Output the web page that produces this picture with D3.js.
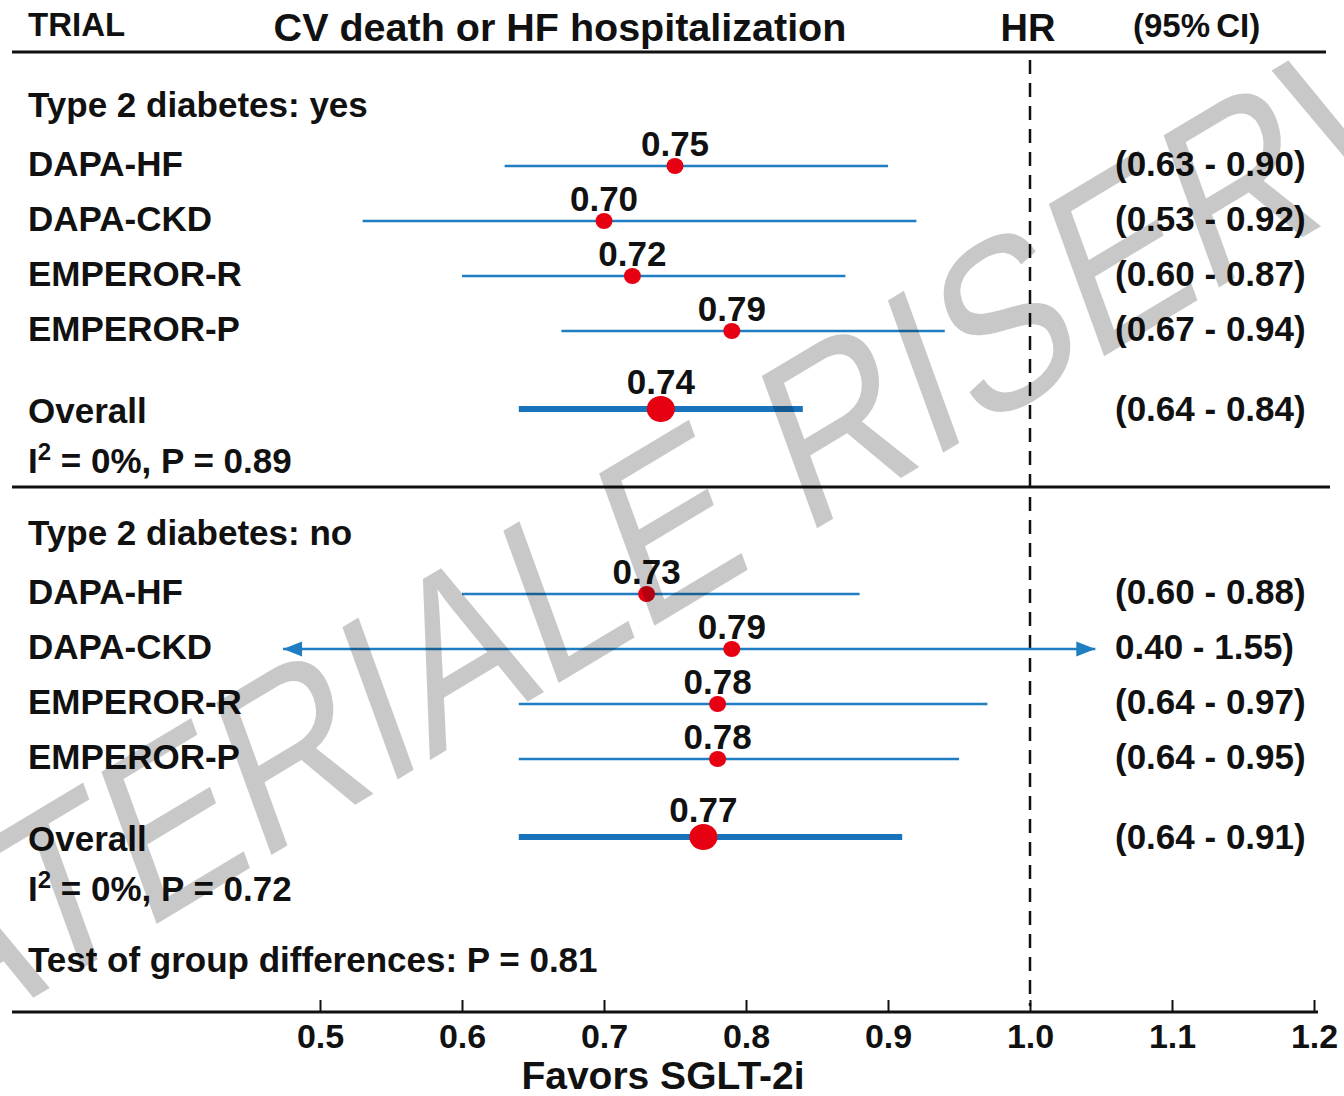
<!DOCTYPE html>
<html>
<head>
<meta charset="utf-8">
<script src="https://cdn.jsdelivr.net/npm/d3@7"></script>
<style>
  html, body { margin: 0; padding: 0; background: #fff; }
  svg { display: block; }
  text { font-family: "Liberation Sans", Arial, Helvetica, sans-serif; font-weight: bold; fill: #111; }
  text.watermark { font-weight: normal; }
</style>
</head>
<body>
<svg id="chart" width="1344" height="1096"></svg>
<script>
// ---- data ----
const groupTitles = ["Type 2 diabetes: yes", "Type 2 diabetes: no"];
const trials = ["DAPA-HF", "DAPA-CKD", "EMPEROR-R", "EMPEROR-P"];

const hrYes = [0.75, 0.70, 0.72, 0.79];
const loYes = [0.63, 0.53, 0.60, 0.67];
const hiYes = [0.90, 0.92, 0.87, 0.94];

const hrNo = [0.73, 0.79, 0.78, 0.78];
const loNo = [0.60, 0.40, 0.64, 0.64];
const hiNo = [0.88, 1.55, 0.97, 0.95];

const overallHR = [0.74, 0.77];
const overallLo = [0.64, 0.64];
const overallHi = [0.84, 0.91];
const heteroI2 = ["0%", "0%"];
const heteroP = ["0.89", "0.72"];
const groupDiffP = "0.81";

const tickValues = [0.5, 0.6, 0.7, 0.8, 0.9, 1.0, 1.1, 1.2];
const refHR = 1.0;
// intervals beyond this window are drawn as arrows
const viewLo = 0.474, viewHi = 1.046;

// ---- layout ----
const svg = d3.select("#chart");
const x = d3.scaleLinear().domain([0.5, 1.2]).range([320, 1314]);
const fmt2 = d3.format(".2f");
const blue = "#1f7dc2", blueDark = "#1873bd", red = "#e60012";
const fs = 35;

const groups = [
  { title: groupTitles[0], hr: hrYes, lo: loYes, hi: hiYes },
  { title: groupTitles[1], hr: hrNo, lo: loNo, hi: hiNo }
];
const groupTop = [117, 545];
const rowStep = 55;

// header
svg.append("text").attr("x", 28).attr("y", 36).attr("font-size", 33).text("TRIAL");
svg.append("text").attr("x", 560).attr("y", 41).attr("font-size", 39.5)
  .attr("text-anchor", "middle").text("CV death or HF hospitalization");
svg.append("text").attr("x", x(refHR) - 2).attr("y", 41).attr("font-size", 38)
  .attr("text-anchor", "middle").text("HR");
svg.append("text").attr("x", 1133).attr("y", 37).attr("font-size", 33)
  .attr("word-spacing", -3).text("(95% CI)");

svg.append("line").attr("x1", 12).attr("x2", 1326).attr("y1", 52).attr("y2", 52)
  .attr("stroke", "#111").attr("stroke-width", 3);
svg.append("line").attr("x1", 12).attr("x2", 1330).attr("y1", 487).attr("y2", 487)
  .attr("stroke", "#111").attr("stroke-width", 3);

// reference line at HR = 1
svg.append("line").attr("x1", x(refHR)).attr("x2", x(refHR)).attr("y1", 60).attr("y2", 1006)
  .attr("stroke", "#111").attr("stroke-width", 2.5).attr("stroke-dasharray", "14,9");

const ciText = (lo, hi) => (lo < viewLo || hi > viewHi ? "" : "(") + fmt2(lo) + " - " + fmt2(hi) + ")";

groups.forEach((g, gi) => {
  const top = groupTop[gi];
  const G = svg.append("g");
  G.append("text").attr("x", 28).attr("y", top).attr("font-size", fs).text(g.title);

  const rows = trials.map((t, i) => ({ name: t, hr: g.hr[i], lo: g.lo[i], hi: g.hi[i], y: top + 49 + i * rowStep }));

  rows.forEach(r => {
    const lo = Math.max(r.lo, viewLo), hi = Math.min(r.hi, viewHi);
    G.append("text").attr("x", 28).attr("y", r.y + 10).attr("font-size", fs).text(r.name);
    G.append("line").attr("x1", x(lo)).attr("x2", x(hi)).attr("y1", r.y).attr("y2", r.y)
      .attr("stroke", blue).attr("stroke-width", 2.5);
    if (r.lo < viewLo) {
      const t = x(viewLo);
      G.append("path").attr("d", `M${t},${r.y}L${t + 19},${r.y - 7.5}L${t + 19},${r.y + 7.5}Z`).attr("fill", blue);
    }
    if (r.hi > viewHi) {
      const t = x(viewHi);
      G.append("path").attr("d", `M${t},${r.y}L${t - 19},${r.y - 7.5}L${t - 19},${r.y + 7.5}Z`).attr("fill", blue);
    }
    G.append("ellipse").attr("cx", x(r.hr)).attr("cy", r.y).attr("rx", 8.5).attr("ry", 8).attr("fill", red);
    G.append("text").attr("x", x(r.hr)).attr("y", r.y - 10).attr("font-size", fs)
      .attr("text-anchor", "middle").text(fmt2(r.hr));
    G.append("text").attr("x", 1115).attr("y", r.y + 10).attr("font-size", fs).text(ciText(r.lo, r.hi));
  });

  // pooled estimate
  const oy = top + 292;
  G.append("text").attr("x", 28).attr("y", oy + 14).attr("font-size", fs).text("Overall");
  G.append("line").attr("x1", x(overallLo[gi])).attr("x2", x(overallHi[gi])).attr("y1", oy).attr("y2", oy)
    .attr("stroke", blueDark).attr("stroke-width", 6);
  G.append("ellipse").attr("cx", x(overallHR[gi])).attr("cy", oy).attr("rx", 14).attr("ry", 13).attr("fill", red);
  G.append("text").attr("x", x(overallHR[gi])).attr("y", oy - 15).attr("font-size", fs)
    .attr("text-anchor", "middle").text(fmt2(overallHR[gi]));
  G.append("text").attr("x", 1115).attr("y", oy + 12).attr("font-size", fs)
    .text(ciText(overallLo[gi], overallHi[gi]));

  const het = G.append("text").attr("x", 28).attr("y", top + 356).attr("font-size", fs);
  het.append("tspan").text("I");
  het.append("tspan").attr("font-size", 24).attr("dy", -13).text("2");
  het.append("tspan").attr("dy", 13).text(" = " + heteroI2[gi] + ", P = " + heteroP[gi]);
});

svg.append("text").attr("x", 28).attr("y", 972).attr("font-size", fs)
  .text("Test of group differences: P = " + groupDiffP);

// x axis
const axisY = 1012;
const axis = svg.append("g").attr("transform", `translate(0,${axisY})`)
  .call(d3.axisBottom(x).tickValues(tickValues).tickSize(-12).tickSizeOuter(0)
    .tickPadding(12).tickFormat(d3.format(".1f")));
axis.select(".domain").remove();
axis.selectAll(".tick line").attr("stroke", "#111").attr("stroke-width", 2);
axis.selectAll(".tick text").attr("font-size", 34).attr("fill", "#111")
  .attr("font-family", "\"Liberation Sans\", Arial, sans-serif").attr("font-weight", "bold");
svg.append("line").attr("x1", 12).attr("x2", 1318).attr("y1", axisY).attr("y2", axisY)
  .attr("stroke", "#111").attr("stroke-width", 3);

svg.append("text").attr("x", 663).attr("y", 1089).attr("font-size", 39)
  .attr("text-anchor", "middle").text("Favors SGLT-2i");

// diagonal watermark, stretched vertically
svg.append("text")
  .attr("class", "watermark")
  .attr("transform", "translate(779,551) scale(1,1.285) rotate(-25)")
  .attr("text-anchor", "middle")
  .attr("font-size", 190)
  .style("fill", "#000")
  .style("fill-opacity", 0.215)
  .text("MATERIALE RISERVATO");
</script>
</body>
</html>
